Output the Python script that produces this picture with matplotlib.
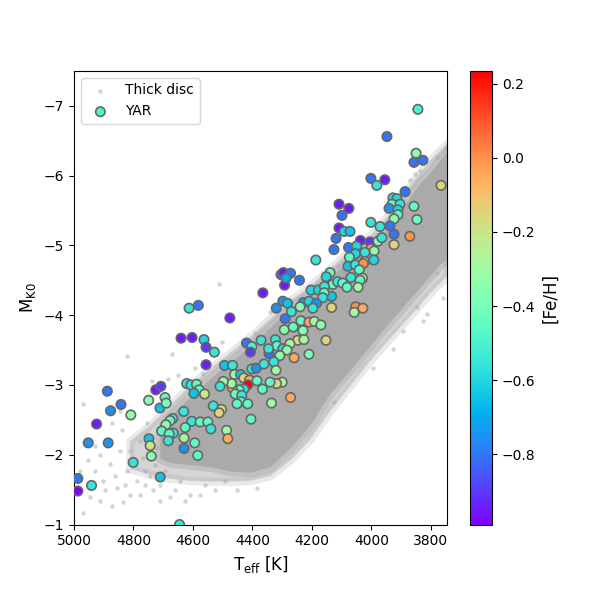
import matplotlib
matplotlib.use("Agg")
import matplotlib.pyplot as plt
import numpy as np

# ---------------- YAR stars: Teff [K], M_K0 [mag], [Fe/H] ----------------
yar_teff = [3844, 3948, 3850, 3857, 3827, 3766, 4002, 3955, 3982, 3887,
            4109, 4076, 4099, 3928, 3914, 3931, 3904, 3941, 3911, 3857,
            3847, 3911, 3924, 4109, 4092, 4072, 4002, 3971, 3938, 4119,
            3924, 3871, 3924, 4037, 4005, 3978, 3965, 4126, 4077, 4050,
            4002, 3991, 4022, 4054, 4074, 4079, 4054, 4023, 4027, 3992,
            4187, 4304, 4296, 4272, 4292, 4287, 4242, 4365, 4139, 4152,
            4069, 4041, 4030, 4130, 4114, 4097, 4082, 4038, 4045, 4203,
            4178, 4158, 4134, 4159, 4164, 4298, 4282, 4320, 4229, 4210,
            4185, 4240, 4269, 4197, 4134, 4053, 4029, 4058, 4290, 4237,
            4210, 4192, 4170, 4293, 4263, 4230, 4248, 4227, 4153, 4323,
            4318, 4298, 4274, 4284, 4308, 4210, 4260, 4344, 4328, 4321,
            4300, 4319, 4341, 4272, 4336, 4613, 4582, 4476, 4640, 4603,
            4563, 4556, 4528, 4556, 4420, 4402, 4407, 4371, 4346, 4494,
            4467, 4402, 4387, 4361, 4460, 4440, 4429, 4410, 4416, 4429,
            4445, 4468, 4470, 4498, 4509, 4385, 4366, 4621, 4607, 4588,
            4579, 4597, 4561, 4458, 4436, 4439, 4416, 4452, 4532, 4504,
            4512, 4631, 4668, 4604, 4576, 4550, 4540, 4626, 4405, 4487,
            4483, 4630, 4594, 4666, 4630, 4584, 4888, 4924, 4877, 4842,
            4809, 4952, 4885, 4987, 4987, 4941, 4801, 4725, 4708, 4749,
            4711, 4694, 4690, 4677, 4691, 4705, 4680, 4683, 4748, 4744,
            4740, 4710, 4645]
yar_mk = [-6.95, -6.56, -6.32, -6.19, -6.22, -5.86, -5.96, -5.94, -5.86, -5.77,
          -5.59, -5.53, -5.43, -5.68, -5.67, -5.59, -5.59, -5.53, -5.51, -5.56,
          -5.37, -5.44, -5.38, -5.25, -5.20, -5.20, -5.33, -5.27, -5.28, -5.10,
          -5.16, -5.13, -5.01, -5.07, -5.05, -5.06, -5.11, -4.94, -4.97, -4.99,
          -4.95, -4.92, -4.90, -4.88, -4.83, -4.70, -4.72, -4.77, -4.74, -4.79,
          -4.79, -4.58, -4.61, -4.60, -4.43, -4.53, -4.50, -4.32, -4.61, -4.55,
          -4.54, -4.65, -4.53, -4.44, -4.48, -4.46, -4.40, -4.50, -4.40, -4.36,
          -4.36, -4.41, -4.27, -4.32, -4.25, -4.20, -4.17, -4.10, -4.18, -4.20,
          -4.17, -4.12, -4.05, -4.10, -4.11, -4.12, -4.10, -4.04, -3.95, -3.92,
          -3.90, -3.91, -3.86, -3.79, -3.83, -3.78, -3.64, -3.65, -3.64, -3.65,
          -3.56, -3.52, -3.59, -3.50, -3.42, -3.44, -3.39, -3.45, -3.33, -3.21,
          -3.04, -3.02, -3.04, -2.82, -2.74, -4.10, -4.14, -3.96, -3.67, -3.68,
          -3.65, -3.54, -3.47, -3.29, -3.60, -3.55, -3.47, -3.64, -3.52, -3.28,
          -3.28, -3.23, -3.24, -3.30, -3.15, -3.15, -3.10, -3.07, -3.00, -2.94,
          -2.93, -2.96, -3.02, -3.05, -2.98, -3.06, -2.94, -3.02, -3.00, -3.01,
          -2.93, -2.88, -2.87, -2.87, -2.85, -2.76, -2.73, -2.73, -2.70, -2.65,
          -2.60, -2.62, -2.52, -2.48, -2.47, -2.47, -2.37, -2.39, -2.51, -2.35,
          -2.23, -2.24, -2.17, -2.31, -2.09, -1.99, -2.91, -2.44, -2.63, -2.72,
          -2.57, -2.17, -2.17, -1.66, -1.48, -1.56, -1.89, -2.93, -2.98, -2.78,
          -2.67, -2.82, -2.74, -2.49, -2.43, -2.34, -2.30, -2.20, -2.23, -2.13,
          -1.98, -1.68, -1.00]
yar_feh = [-0.50, -0.80, -0.35, -0.80, -0.80, -0.15, -0.80, -0.95, -0.55, -0.80,
           -0.95, -0.95, -0.80, -0.60, -0.60, -0.45, -0.55, -0.75, -0.60, -0.45,
           -0.42, -0.45, -0.35, -0.95, -0.60, -0.65, -0.55, -0.55, -0.80, -0.80,
           -0.80, 0.00, -0.15, -0.95, -0.90, -0.35, -0.55, -0.80, -0.80, -0.60,
           -0.05, -0.35, -0.55, -0.60, -0.45, -0.65, -0.55, -0.30, 0.00, -0.60,
           -0.55, -0.80, -0.95, -0.80, -0.95, -0.70, -0.80, -0.95, -0.45, -0.60,
           -0.55, -0.45, -0.30, -0.42, -0.55, -0.45, -0.45, -0.45, -0.30, -0.60,
           -0.60, -0.55, -0.65, -0.45, -0.55, -0.75, -0.65, -0.75, -0.70, -0.60,
           -0.75, -0.35, -0.55, -0.55, -0.15, 0.00, -0.05, -0.30, -0.80, -0.45,
           -0.05, -0.30, -0.35, -0.35, -0.45, -0.35, -0.15, -0.30, -0.15, -0.55,
           -0.45, -0.60, -0.30, -0.35, -0.35, -0.40, -0.05, -0.80, -0.55, -0.30,
           -0.30, -0.15, -0.45, -0.05, -0.30, -0.55, -0.80, -0.95, -0.95, -0.95,
           -0.60, -0.90, -0.55, -0.95, -0.80, -0.50, -0.90, -0.55, -0.55, -0.65,
           -0.55, -0.55, -0.75, -0.55, -0.30, -0.65, -0.15, -0.05, 0.235, -0.55,
           -0.45, -0.05, -0.30, -0.30, -0.55, -0.45, -0.45, -0.55, -0.55, -0.45,
           -0.45, -0.65, -0.20, -0.45, -0.55, -0.45, -0.45, -0.45, -0.55, -0.15,
           -0.15, -0.55, -0.55, -0.55, -0.45, -0.45, -0.55, -0.45, -0.45, -0.30,
           -0.05, -0.30, -0.45, -0.55, -0.75, -0.45, -0.80, -0.95, -0.75, -0.80,
           -0.35, -0.75, -0.75, -0.80, -0.99, -0.55, -0.55, -0.95, -0.90, -0.35,
           -0.65, -0.45, -0.40, -0.45, -0.35, -0.45, -0.45, -0.55, -0.65, -0.20,
           -0.35, -0.65, -0.55]

# ---------------- Thick disc: dense core band (edges) ----------------
core_teff = [4711, 4677, 4610, 4543, 4476, 4408, 4341, 4274, 4207, 4140, 4072,
             4005, 3972, 3938, 3904, 3871, 3837, 3803, 3770, 3746]
core_upper = [-2.35, -2.56, -2.82, -3.09, -3.32, -3.56, -3.82, -4.10, -4.31, -4.54,
              -4.78, -5.00, -5.11, -5.28, -5.47, -5.69, -5.89, -6.04, -6.22, -6.33]
core_lower = [-1.95, -1.89, -1.86, -1.83, -1.77, -1.75, -1.83, -2.10, -2.43, -2.88,
              -3.22, -3.56, -3.74, -3.91, -4.07, -4.24, -4.40, -4.57, -4.73, -4.81]

# speckled halo around the core
halo_teff = [4812, 4745, 4677, 4610, 4543, 4476, 4408, 4341, 4274, 4207, 4140,
             4072, 4005, 3938, 3871, 3803, 3746]
halo_upper = [-2.20, -2.42, -2.71, -2.99, -3.24, -3.46, -3.69, -3.95, -4.21, -4.42,
              -4.67, -4.93, -5.14, -5.46, -5.86, -6.22, -6.46]
halo_lower = [-1.80, -1.72, -1.66, -1.63, -1.62, -1.62, -1.63, -1.70, -1.92, -2.22,
              -2.63, -2.99, -3.35, -3.67, -3.99, -4.32, -4.57]

# sparse thick-disc stars outside the band
td_teff = [4970, 4872, 4839, 4845, 4879, 4903, 4946, 4855, 4822, 4788, 4835, 4734,
           4677, 4768, 4778, 4721, 4845, 4755, 4970, 4452, 4385, 4513, 4822, 4671,
           4593, 4503, 4738, 4684, 4650, 4566, 4392, 4351, 3780, 3760, 3814, 3894,
           3928, 3995, 3847, 3827, 4126, 4197, 4240, 4298, 4331, 3871, 3837, 3780,
           3753, 4341, 3854, 4113, 4913, 4929, 4812, 4761, 4711, 4627, 4576, 4872,
           4980, 4953, 4929, 4913, 4896, 4862, 4829, 4812, 4795, 4778, 4761, 4745,
           4728, 4711, 4694, 4661, 4644, 4610, 4560, 4526, 4492]
td_mk = [-2.72, -2.45, -2.35, -2.06, -1.87, -1.63, -1.39, -1.53, -1.77, -1.63, -1.32,
         -1.49, -1.39, -1.96, -2.20, -2.10, -2.63, -2.45, -1.16, -1.49, -1.53, -4.45,
         -3.41, -3.45, -3.25, -3.61, -3.05, -3.09, -3.14, -3.16, -3.74, -3.78, -4.60,
         -4.25, -4.02, -3.78, -3.52, -3.25, -4.11, -3.92, -2.76, -2.52, -2.28, -2.09,
         -1.92, -5.93, -6.07, -6.26, -6.39, -4.04, -6.03, -4.71, -1.99, -1.77, -1.42,
         -1.77, -1.34, -1.34, -1.42, -1.27,
         -1.77, -1.92, -2.13, -1.34, -1.49, -1.70, -1.56, -2.06, -1.85, -1.42, -1.56,
         -1.70, -1.85, -1.56, -1.77, -1.49, -1.63, -1.42, -1.56, -1.49, -1.63]

# ---------------- plot ----------------
fig = plt.figure(figsize=(6, 6), dpi=100)
ax = fig.add_axes([0.1233, 0.1258, 0.6217, 0.756])
cax = fig.add_axes([0.783, 0.1258, 0.037, 0.756])

grey = "darkgray"
# soft outer halo
ax.fill_between(halo_teff, halo_lower, halo_upper, facecolor=grey, edgecolor=grey,
                alpha=0.25, linewidth=6, zorder=1)
ax.fill_between(halo_teff, halo_lower, halo_upper, facecolor=grey, edgecolor="none",
                alpha=0.3, linewidth=0, zorder=1.1)
# feathered edge of the dense core
ax.fill_between(core_teff, core_lower, core_upper, facecolor=grey, edgecolor=grey,
                alpha=0.45, linewidth=7, zorder=1.3)
ax.fill_between(core_teff, core_lower, core_upper, color="#aaaaaa",
                linewidth=0, zorder=1.5)
ax.scatter(td_teff, td_mk, s=10, color=grey, alpha=0.5, linewidths=0,
           label="Thick disc", zorder=2)

sc = ax.scatter(yar_teff, yar_mk, c=yar_feh, cmap="rainbow", s=46,
                edgecolors="#666666", linewidths=1.2, label="YAR", zorder=3)

ax.set_xlim(5000, 3746)
ax.set_ylim(-1, -7.5)
ax.set_xticks([5000, 4800, 4600, 4400, 4200, 4000, 3800])
ax.set_yticks([-1, -2, -3, -4, -5, -6, -7])
ax.set_xlabel(r"T$_{\mathrm{eff}}$ [K]", fontsize=12)
ax.set_ylabel(r"M$_{\mathrm{K0}}$", fontsize=12)
ax.tick_params(labelsize=10)

ax.legend(loc="upper left", fontsize=10, framealpha=0.8)

cb = fig.colorbar(sc, cax=cax)
cb.set_label("[Fe/H]", fontsize=12)
cb.ax.tick_params(labelsize=10)

fig.savefig("out.png", dpi=100)
